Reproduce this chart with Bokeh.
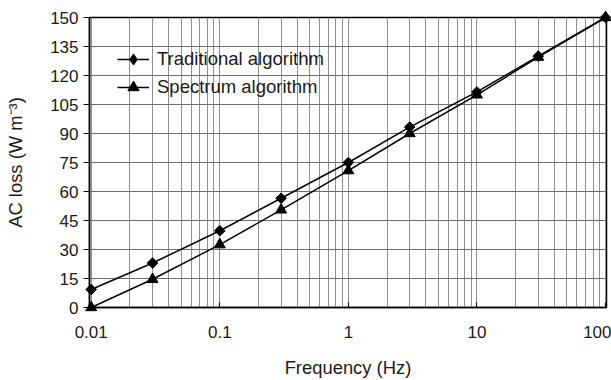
import numpy as np
from bokeh.plotting import figure
from bokeh.models import FixedTicker, CustomJSTickFormatter, Range1d, Legend, LegendItem
from bokeh.embed import file_html
from bokeh.resources import INLINE

freq = [0.01, 0.03, 0.1, 0.3, 1, 3, 10, 30, 100]
traditional = [9.3, 23.0, 39.7, 56.5, 75.0, 93.3, 111.5, 130.0, 150.0]
spectrum = [0.0, 14.6, 32.5, 50.5, 70.8, 90.0, 110.0, 129.5, 150.0]
x_major = [0.01, 0.1, 1, 10, 100]
y_major = [0, 15, 30, 45, 60, 75, 90, 105, 120, 135, 150]
x_minor = [m * d for d in [0.01, 0.1, 1, 10] for m in range(2, 10)]

FONT = "Liberation Sans"

p = figure(width=611, height=380, x_axis_type="log",
           x_range=Range1d(0.0097, 101.8), y_range=Range1d(0, 150),
           output_backend="svg", toolbar_location=None,
           min_border_left=89, min_border_right=5, min_border_top=17, min_border_bottom=72)

p.outline_line_color = "black"
p.outline_line_width = 1.5
p.background_fill_color = "white"

# x axis
p.xaxis.ticker = FixedTicker(ticks=x_major, minor_ticks=x_minor)
p.xaxis.formatter = CustomJSTickFormatter(code="return String(tick);")
p.xaxis.major_tick_in = 5
p.xaxis.major_tick_out = 0
p.xaxis.minor_tick_in = 0
p.xaxis.minor_tick_out = 0
p.xaxis.axis_label = "Frequency (Hz)"
p.xaxis.major_label_standoff = 18
p.xaxis.axis_label_standoff = 16

# y axis
p.yaxis.ticker = FixedTicker(ticks=y_major)
p.yaxis.major_tick_in = 0
p.yaxis.major_tick_out = 6
p.yaxis.minor_tick_in = 0
p.yaxis.minor_tick_out = 0
p.yaxis.axis_label = "AC loss (W m\u207b\u00b3)"
p.yaxis.major_label_standoff = 5
p.yaxis.axis_label_standoff = 21

for ax in [p.xaxis, p.yaxis]:
    ax.axis_line_color = "black"
    ax.axis_line_width = 1.5
    ax.major_tick_line_color = "black"
    ax.major_tick_line_width = 1.2
    ax.major_label_text_font = FONT
    ax.major_label_text_font_size = "17px"
    ax.major_label_text_color = "#1a1a1a"
    ax.axis_label_text_font = FONT
    ax.axis_label_text_font_size = "18.4px"
    ax.axis_label_text_font_style = "normal"
    ax.axis_label_text_color = "#1a1a1a"

p.xgrid.grid_line_color = "#8f8f8f"
p.xgrid.grid_line_width = 1
p.xgrid.minor_grid_line_color = "#8f8f8f"
p.xgrid.minor_grid_line_width = 1
p.ygrid.grid_line_color = "#6e6e6e"
p.ygrid.grid_line_width = 1

l1 = p.line(freq, traditional, line_color="black", line_width=1.5, level="overlay")
m1 = p.scatter(freq, traditional, marker="square", angle=np.pi / 4, size=7.5,
               fill_color="black", line_color="black", level="overlay")
k1 = p.scatter(freq, traditional, marker="diamond", size=12,
               fill_color="black", line_color="black", visible=False)
l2 = p.line(freq, spectrum, line_color="black", line_width=1.5, level="overlay")
m2 = p.scatter(freq, spectrum, marker="triangle", size=11,
               fill_color="black", line_color="black", level="overlay")

legend = Legend(items=[LegendItem(label="Traditional algorithm", renderers=[l1, k1]),
                       LegendItem(label="Spectrum algorithm", renderers=[l2, m2])],
                location="top_left", margin=0, padding=28,
                background_fill_alpha=0, border_line_alpha=0,
                glyph_width=32, glyph_height=28, label_standoff=8, spacing=0,
                label_text_font=FONT, label_text_font_size="18.5px",
                label_text_color="#1a1a1a")
p.add_layout(legend)

open("out.html", "w").write(file_html(p, INLINE))
